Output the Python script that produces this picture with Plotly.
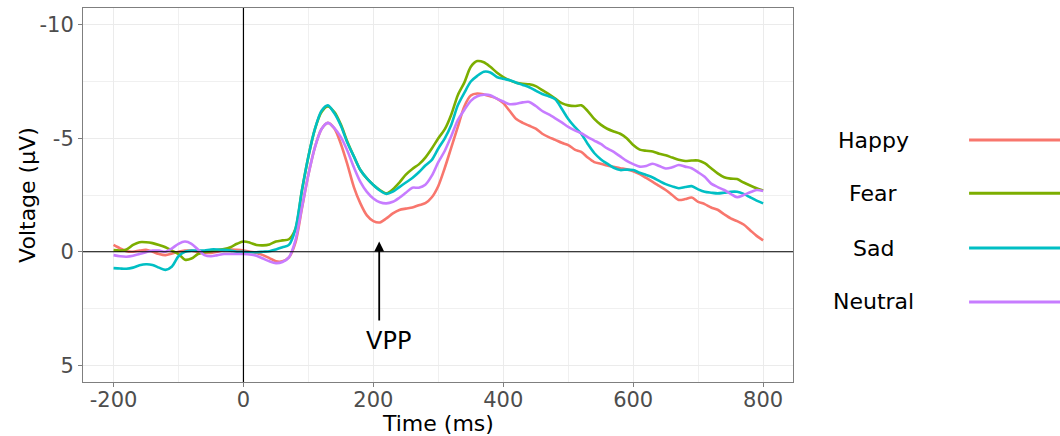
import plotly.graph_objects as go

time_ms = list(range(-200, 801, 10))

happy = [-0.30, -0.15, -0.02, 0.00, -0.05, -0.08, 0.00, 0.10, 0.15, 0.08,
         0.00, -0.05, -0.05, 0.00, 0.05, 0.05, 0.00, -0.07, -0.10, -0.08,
         -0.05, 0.00, 0.05, 0.15, 0.28, 0.42, 0.42, 0.25, -0.40, -1.90,
         -3.40, -4.60, -5.40, -5.68, -5.43, -4.75, -3.85, -2.85, -2.13, -1.60,
         -1.35, -1.29, -1.47, -1.69, -1.84, -1.90, -1.95, -2.05, -2.14, -2.40,
         -2.90, -3.70, -4.60, -5.50, -6.40, -6.88, -6.97, -6.93, -6.85, -6.75,
         -6.55, -6.20, -5.85, -5.68, -5.55, -5.42, -5.20, -5.05, -4.93, -4.80,
         -4.70, -4.50, -4.40, -4.15, -3.95, -3.88, -3.80, -3.74, -3.68, -3.63,
         -3.55, -3.42, -3.25, -3.08, -2.90, -2.72, -2.50, -2.28, -2.32, -2.39,
         -2.20, -2.10, -1.95, -1.85, -1.65, -1.47, -1.35, -1.20, -0.95, -0.70,
         -0.50]

fear = [-0.07, -0.05, -0.10, -0.30, -0.42, -0.42, -0.38, -0.30, -0.20, -0.05,
        0.10, 0.35, 0.30, 0.10, 0.02, -0.02, -0.08, -0.12, -0.20, -0.35,
        -0.45, -0.40, -0.30, -0.28, -0.32, -0.45, -0.50, -0.55, -1.00, -2.70,
        -4.20, -5.40, -6.15, -6.40, -6.15, -5.60, -4.85, -4.20, -3.60, -3.23,
        -2.94, -2.72, -2.57, -2.75, -3.05, -3.40, -3.65, -3.85, -4.15, -4.55,
        -5.00, -5.40, -6.05, -6.90, -7.45, -8.15, -8.40, -8.35, -8.15, -7.90,
        -7.70, -7.55, -7.45, -7.40, -7.38, -7.30, -7.12, -6.95, -6.75, -6.55,
        -6.45, -6.42, -6.45, -6.20, -5.85, -5.60, -5.42, -5.30, -5.20, -5.00,
        -4.70, -4.50, -4.45, -4.42, -4.32, -4.25, -4.15, -4.05, -4.00, -4.02,
        -4.02, -3.90, -3.68, -3.45, -3.28, -3.22, -3.20, -3.05, -2.92, -2.80,
        -2.70]

sad = [0.72, 0.74, 0.75, 0.70, 0.60, 0.55, 0.58, 0.70, 0.80, 0.65,
       0.20, 0.00, -0.05, -0.05, -0.05, -0.10, -0.10, -0.08, -0.05, 0.00,
       0.00, 0.02, 0.02, 0.00, -0.02, -0.10, -0.20, -0.30, -1.00, -2.70,
       -4.20, -5.40, -6.20, -6.45, -6.10, -5.55, -4.80, -4.20, -3.60, -3.23,
       -2.94, -2.70, -2.55, -2.65, -2.85, -3.05, -3.25, -3.50, -3.80, -4.05,
       -4.55, -5.00, -5.60, -6.45, -7.00, -7.50, -7.75, -7.93, -7.90, -7.70,
       -7.62, -7.56, -7.45, -7.35, -7.25, -7.10, -6.95, -6.85, -6.72, -6.30,
       -5.85, -5.50, -5.20, -4.75, -4.35, -4.08, -3.88, -3.70, -3.60, -3.62,
       -3.60, -3.48, -3.38, -3.27, -3.12, -2.98, -2.88, -2.80, -2.85, -2.89,
       -2.75, -2.64, -2.60, -2.57, -2.60, -2.64, -2.64, -2.55, -2.40, -2.25,
       -2.13]

neutral = [0.15, 0.20, 0.22, 0.18, 0.10, 0.02, -0.05, -0.05, 0.00, -0.15,
           -0.35, -0.45, -0.35, -0.10, 0.15, 0.20, 0.15, 0.10, 0.10, 0.10,
           0.10, 0.12, 0.18, 0.30, 0.42, 0.50, 0.45, 0.25, -0.50, -1.95,
           -3.40, -4.60, -5.40, -5.68, -5.45, -5.05, -4.45, -3.72, -3.08, -2.64,
           -2.35, -2.18, -2.13, -2.20, -2.38, -2.60, -2.82, -2.82, -2.95, -3.35,
           -3.95, -4.45, -5.10, -5.80, -6.25, -6.65, -6.85, -6.92, -6.90, -6.75,
           -6.62, -6.50, -6.52, -6.58, -6.60, -6.42, -6.20, -6.05, -5.88, -5.70,
           -5.50, -5.35, -5.22, -5.05, -4.90, -4.75, -4.55, -4.40, -4.20, -4.00,
           -3.86, -3.75, -3.78, -3.88, -3.78, -3.67, -3.72, -3.82, -3.75, -3.68,
           -3.50, -3.30, -3.00, -2.85, -2.72, -2.55, -2.40, -2.50, -2.62, -2.72,
           -2.68]

conditions = ["Happy", "Fear", "Sad", "Neutral"]
colors = ["#F8766D", "#7CAE00", "#00BFC4", "#C77CFF"]
series = [happy, fear, sad, neutral]

x_ticks = [-200, 0, 200, 400, 600, 800]
y_ticks = [-10, -5, 0, 5]

vpp_time = 209
vpp_tip = -0.45
vpp_tail = 3.1
vpp_label_y = 3.95

FONT = "DejaVu Sans, Liberation Sans, Arial, sans-serif"

fig = go.Figure()
for name, col, vals in zip(conditions, colors, series):
    fig.add_trace(go.Scatter(x=time_ms, y=vals, mode="lines", name=name,
                             line=dict(color=col, width=2.6, shape="spline", smoothing=0.8),
                             showlegend=False))

# zero lines
fig.add_shape(type="line", xref="paper", yref="y", x0=0, x1=1, y0=0, y1=0,
              line=dict(color="black", width=1.2), layer="above")
fig.add_shape(type="line", xref="x", yref="paper", x0=0, x1=0, y0=0, y1=1,
              line=dict(color="black", width=1.2), layer="above")

# VPP arrow and label
fig.add_annotation(x=vpp_time, y=vpp_tip, ax=vpp_time, ay=vpp_tail, xref="x", yref="y",
                   axref="x", ayref="y", text="", showarrow=True, arrowhead=2,
                   arrowsize=1.1, arrowwidth=1.8, arrowcolor="black")
fig.add_annotation(x=vpp_time + 14, y=vpp_label_y, xref="x", yref="y", text="VPP",
                   showarrow=False, font=dict(family=FONT, size=24, color="black"))

# custom legend (labels left of line keys)
leg_y = [0.647, 0.505, 0.358, 0.214]
for name, col, ly in zip(conditions, colors, leg_y):
    fig.add_annotation(x=1.1127, y=ly, xref="paper", yref="paper", text=name,
                       showarrow=False, xanchor="center", yanchor="middle",
                       font=dict(family=FONT, size=22, color="black"))
    fig.add_shape(type="line", xref="paper", yref="paper", x0=1.248, x1=1.40,
                  y0=ly, y1=ly, line=dict(color=col, width=3))

# axis titles
fig.add_annotation(x=0.5, y=-0.11, xref="paper", yref="paper", text="Time (ms)",
                   showarrow=False, xanchor="center", yanchor="middle",
                   font=dict(family=FONT, size=22, color="black"))
fig.add_annotation(x=-0.079, y=0.5, xref="paper", yref="paper", text="Voltage (μV)",
                   showarrow=False, xanchor="center", yanchor="middle", textangle=-90,
                   font=dict(family=FONT, size=22, color="black"))

fig.update_xaxes(range=[-247, 846], tickvals=x_ticks, ticktext=[str(t) for t in x_ticks],
                 showgrid=True, gridcolor="#ebebeb", gridwidth=1,
                 minor=dict(dtick=100, tick0=-300, showgrid=True, gridcolor="#f0f0f0", gridwidth=1),
                 zeroline=False, showline=True, linecolor="#7f7f7f", linewidth=1, mirror=True,
                 ticks="outside", ticklen=4, tickcolor="#7f7f7f", ticklabelstandoff=-5,
                 tickfont=dict(family=FONT, size=21, color="#4d4d4d"))
fig.update_yaxes(range=[5.74, -10.74], tickvals=y_ticks, ticktext=[str(t) for t in y_ticks],
                 showgrid=True, gridcolor="#ebebeb", gridwidth=1,
                 minor=dict(tickvals=[-7.5, -2.5, 2.5], showgrid=True, gridcolor="#f0f0f0", gridwidth=1),
                 zeroline=False, showline=True, linecolor="#7f7f7f", linewidth=1, mirror=True,
                 ticks="outside", ticklen=4, tickcolor="#7f7f7f",
                 tickfont=dict(family=FONT, size=21, color="#4d4d4d"))

fig.update_layout(width=1060, height=436, margin=dict(l=83, r=267, t=8, b=54),
                  paper_bgcolor="white", plot_bgcolor="white", showlegend=False,
                  font=dict(family=FONT))

fig.write_html("out.html")
